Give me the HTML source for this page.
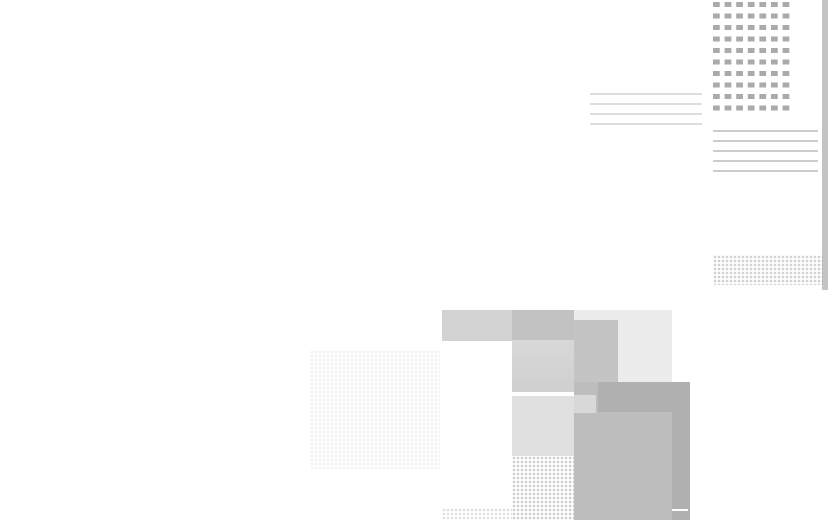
<!DOCTYPE html>
<html><head><style>
body{margin:0;width:828px;height:520px;background:#fff;position:relative;overflow:hidden}
div{position:absolute}
.d{background-image:radial-gradient(circle,#999 1px,transparent 1.6px);background-size:4px 4px}
.sq{background-image:linear-gradient(#aaa,#aaa);background-size:8px 6px;}
</style></head><body>
<!-- top right grid of squares -->
<div style="left:713px;top:2px;width:80px;height:115px;background-image:linear-gradient(to right,#aaa 7px,transparent 7px);background-size:11.6px 100%;-webkit-mask:linear-gradient(#000 5px,transparent 5px) 0 0/100% 11.5px;mask:linear-gradient(#000 5px,transparent 5px) 0 0/100% 11.5px"></div>
<div style="left:713px;top:122px;width:105px;height:50px;background:repeating-linear-gradient(#fff 0 8px,#ccc 8px 10px)"></div>
<div style="left:822px;top:0;width:6px;height:290px;background:#c4c4c4"></div>
<div style="left:713px;top:255px;width:110px;height:30px;opacity:.45" class="d"></div>
<div style="left:590px;top:90px;width:112px;height:35px;background:repeating-linear-gradient(#fff 0 3px,#ddd 3px 5px,#fff 5px 10px)"></div>
<!-- bottom cluster -->
<div style="left:442px;top:310px;width:70px;height:31px;background:#d2d2d2" class="d"></div>
<div style="left:512px;top:310px;width:62px;height:30px;background:#c2c2c2"></div>
<div style="left:574px;top:310px;width:98px;height:72px;background:#ececec"></div>
<div style="left:574px;top:320px;width:44px;height:62px;background:#c4c4c4"></div>
<div style="left:512px;top:340px;width:62px;height:52px;background:linear-gradient(#d8d8d8,#cfcfcf)"></div>
<div style="left:512px;top:396px;width:62px;height:60px;background:#e0e0e0"></div>
<div style="left:512px;top:456px;width:62px;height:64px;opacity:.5" class="d"></div>
<div style="left:574px;top:382px;width:116px;height:138px;background:#bdbdbd"></div>
<div style="left:598px;top:382px;width:92px;height:30px;background:#b0b0b0"></div>
<div style="left:672px;top:382px;width:18px;height:138px;background:#b0b0b0"></div>
<div style="left:672px;top:509px;width:16px;height:2px;background:#fff"></div>
<div style="left:574px;top:395px;width:22px;height:18px;background:#d8d8d8"></div>
<div style="left:442px;top:508px;width:70px;height:12px;opacity:.3" class="d"></div>
<div style="left:310px;top:350px;width:130px;height:120px;opacity:.12" class="d"></div>
</body></html>
